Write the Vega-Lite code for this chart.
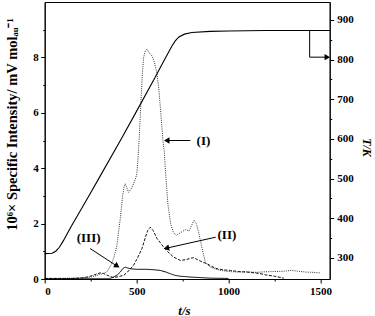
{
  "$schema": "https://vega.github.io/schema/vega-lite/v6.json",
  "width": 285,
  "height": 277,
  "autosize": {"type": "none"},
  "padding": {"left": 44.7, "top": 2, "right": 45.3, "bottom": 37},
  "background": "white",
  "config": {
    "font": "Liberation Serif",
    "view": {"stroke": "black", "strokeWidth": 1},
    "axis": {
      "labelFont": "Liberation Serif",
      "labelFontWeight": "bold",
      "labelFontSize": 11,
      "labelColor": "black",
      "tickColor": "black",
      "domainColor": "black",
      "tickSize": 4,
      "grid": false,
      "titleFont": "Liberation Serif",
      "titleFontWeight": "bold",
      "titleFontSize": 13,
      "titleColor": "black"
    },
    "text": {"font": "Liberation Serif"}
  },
  "datasets": {
    "intensity": [
      {"series": "I", "t": 0, "v": 0.02}, {"series": "I", "t": 100, "v": 0.02}, {"series": "I", "t": 200, "v": 0.04}, {"series": "I", "t": 250, "v": 0.07}, {"series": "I", "t": 280, "v": 0.12}, {"series": "I", "t": 300, "v": 0.17}, {"series": "I", "t": 320, "v": 0.2}, {"series": "I", "t": 340, "v": 0.27}, {"series": "I", "t": 360, "v": 0.5}, {"series": "I", "t": 374, "v": 0.73}, {"series": "I", "t": 385, "v": 1.0}, {"series": "I", "t": 393, "v": 1.21}, {"series": "I", "t": 400, "v": 1.6}, {"series": "I", "t": 411, "v": 2.18}, {"series": "I", "t": 423, "v": 2.95}, {"series": "I", "t": 432, "v": 3.35}, {"series": "I", "t": 438, "v": 3.44}, {"series": "I", "t": 446, "v": 3.3}, {"series": "I", "t": 456, "v": 3.13}, {"series": "I", "t": 470, "v": 3.25}, {"series": "I", "t": 483, "v": 3.44}, {"series": "I", "t": 493, "v": 3.6}, {"series": "I", "t": 501, "v": 3.8}, {"series": "I", "t": 508, "v": 4.4}, {"series": "I", "t": 514, "v": 5.1}, {"series": "I", "t": 523, "v": 6.33}, {"series": "I", "t": 530, "v": 7.3}, {"series": "I", "t": 538, "v": 8.0}, {"series": "I", "t": 548, "v": 8.25}, {"series": "I", "t": 556, "v": 8.3}, {"series": "I", "t": 570, "v": 8.15}, {"series": "I", "t": 583, "v": 8.06}, {"series": "I", "t": 598, "v": 7.8}, {"series": "I", "t": 611, "v": 7.4}, {"series": "I", "t": 620, "v": 6.9}, {"series": "I", "t": 629, "v": 6.2}, {"series": "I", "t": 643, "v": 5.0}, {"series": "I", "t": 650, "v": 4.6}, {"series": "I", "t": 660, "v": 3.6}, {"series": "I", "t": 670, "v": 2.7}, {"series": "I", "t": 685, "v": 2.0}, {"series": "I", "t": 700, "v": 1.68}, {"series": "I", "t": 715, "v": 1.58}, {"series": "I", "t": 740, "v": 1.68}, {"series": "I", "t": 765, "v": 1.78}, {"series": "I", "t": 785, "v": 1.74}, {"series": "I", "t": 800, "v": 1.95}, {"series": "I", "t": 812, "v": 2.12}, {"series": "I", "t": 825, "v": 2.0}, {"series": "I", "t": 840, "v": 1.6}, {"series": "I", "t": 856, "v": 1.1}, {"series": "I", "t": 874, "v": 0.6}, {"series": "I", "t": 900, "v": 0.43}, {"series": "I", "t": 930, "v": 0.36}, {"series": "I", "t": 956, "v": 0.31}, {"series": "I", "t": 1000, "v": 0.27}, {"series": "I", "t": 1050, "v": 0.25}, {"series": "I", "t": 1100, "v": 0.26}, {"series": "I", "t": 1150, "v": 0.24}, {"series": "I", "t": 1200, "v": 0.26}, {"series": "I", "t": 1250, "v": 0.27}, {"series": "I", "t": 1300, "v": 0.28}, {"series": "I", "t": 1340, "v": 0.31}, {"series": "I", "t": 1380, "v": 0.28}, {"series": "I", "t": 1420, "v": 0.25}, {"series": "I", "t": 1460, "v": 0.24}, {"series": "I", "t": 1500, "v": 0.22},
      {"series": "II", "t": 0, "v": 0.02}, {"series": "II", "t": 150, "v": 0.02}, {"series": "II", "t": 200, "v": 0.04}, {"series": "II", "t": 240, "v": 0.08}, {"series": "II", "t": 270, "v": 0.15}, {"series": "II", "t": 300, "v": 0.22}, {"series": "II", "t": 320, "v": 0.2}, {"series": "II", "t": 345, "v": 0.12}, {"series": "II", "t": 370, "v": 0.06}, {"series": "II", "t": 393, "v": 0.07}, {"series": "II", "t": 410, "v": 0.1}, {"series": "II", "t": 429, "v": 0.13}, {"series": "II", "t": 450, "v": 0.25}, {"series": "II", "t": 470, "v": 0.4}, {"series": "II", "t": 483, "v": 0.49}, {"series": "II", "t": 500, "v": 0.7}, {"series": "II", "t": 515, "v": 0.9}, {"series": "II", "t": 529, "v": 1.1}, {"series": "II", "t": 545, "v": 1.45}, {"series": "II", "t": 560, "v": 1.75}, {"series": "II", "t": 574, "v": 1.87}, {"series": "II", "t": 590, "v": 1.75}, {"series": "II", "t": 611, "v": 1.46}, {"series": "II", "t": 630, "v": 1.3}, {"series": "II", "t": 647, "v": 1.15}, {"series": "II", "t": 670, "v": 0.98}, {"series": "II", "t": 701, "v": 0.79}, {"series": "II", "t": 738, "v": 0.67}, {"series": "II", "t": 770, "v": 0.7}, {"series": "II", "t": 795, "v": 0.75}, {"series": "II", "t": 810, "v": 0.77}, {"series": "II", "t": 830, "v": 0.7}, {"series": "II", "t": 855, "v": 0.62}, {"series": "II", "t": 883, "v": 0.55}, {"series": "II", "t": 910, "v": 0.45}, {"series": "II", "t": 938, "v": 0.37}, {"series": "II", "t": 970, "v": 0.33}, {"series": "II", "t": 1010, "v": 0.31}, {"series": "II", "t": 1050, "v": 0.27}, {"series": "II", "t": 1100, "v": 0.25}, {"series": "II", "t": 1170, "v": 0.2}, {"series": "II", "t": 1200, "v": 0.15}, {"series": "II", "t": 1250, "v": 0.1}, {"series": "II", "t": 1300, "v": 0.03},
      {"series": "III", "t": 0, "v": 0.01}, {"series": "III", "t": 350, "v": 0.01}, {"series": "III", "t": 374, "v": 0.07}, {"series": "III", "t": 395, "v": 0.15}, {"series": "III", "t": 411, "v": 0.25}, {"series": "III", "t": 425, "v": 0.38}, {"series": "III", "t": 438, "v": 0.43}, {"series": "III", "t": 450, "v": 0.4}, {"series": "III", "t": 465, "v": 0.37}, {"series": "III", "t": 500, "v": 0.35}, {"series": "III", "t": 556, "v": 0.35}, {"series": "III", "t": 600, "v": 0.33}, {"series": "III", "t": 629, "v": 0.31}, {"series": "III", "t": 660, "v": 0.25}, {"series": "III", "t": 683, "v": 0.19}, {"series": "III", "t": 710, "v": 0.13}, {"series": "III", "t": 738, "v": 0.1}, {"series": "III", "t": 792, "v": 0.07}, {"series": "III", "t": 850, "v": 0.05}, {"series": "III", "t": 900, "v": 0.03}, {"series": "III", "t": 1000, "v": 0.02}
    ],
    "temperature": [
      {"t": 0, "T": 311}, {"t": 40, "T": 312}, {"t": 60, "T": 317}, {"t": 80, "T": 327}, {"t": 101, "T": 343}, {"t": 120, "T": 359}, {"t": 147, "T": 382}, {"t": 200, "T": 424}, {"t": 247, "T": 462}, {"t": 300, "T": 505}, {"t": 420, "T": 603}, {"t": 500, "T": 670}, {"t": 600, "T": 755}, {"t": 650, "T": 798}, {"t": 692, "T": 834}, {"t": 710, "T": 847}, {"t": 730, "T": 857}, {"t": 760, "T": 864}, {"t": 800, "T": 868}, {"t": 900, "T": 871}, {"t": 1000, "T": 872}, {"t": 1200, "T": 873}, {"t": 1550, "T": 873}
    ],
    "arrowsI": [
      {"x1": 792, "x2": 664, "y1": 5.0, "y2": 5.0},
      {"x1": 930, "x2": 660, "y1": 1.51, "y2": 1.11},
      {"x1": 247, "x2": 397, "y1": 1.1, "y2": 0.45}
    ],
    "labelsI": [
      {"t": 826, "v": 5.0, "label": "(I)"},
      {"t": 940, "v": 1.6, "label": "(II)"},
      {"t": 174, "v": 1.48, "label": "(III)"}
    ],
    "arrowsT": [
      {"x1": 1441, "x2": 1441, "y1": 873, "y2": 806},
      {"x1": 1441, "x2": 1535, "y1": 806, "y2": 806}
    ]
  },
  "layer": [
    {
      "layer": [
        {
          "data": {"name": "intensity"},
          "mark": {"type": "line", "strokeWidth": 1, "color": "black"},
          "encoding": {
            "x": {"field": "t", "type": "quantitative", "scale": {"domain": [0, 1550], "nice": false, "zero": false},
              "axis": {"orient": "bottom", "values": [0, 500, 1000, 1500], "format": "d", "title": "t/s", "titleFontStyle": "italic", "titleX": 139.3, "titleY": 31, "titleBaseline": "middle", "labelPadding": 2}},
            "y": {"field": "v", "type": "quantitative", "scale": {"domain": [0, 10], "nice": false},
              "axis": {"orient": "left", "values": [0, 2, 4, 6, 8], "title": "10⁶× Specific Intensity/ mV molₐᵤ⁻¹", "titleFontSize": 14.5, "titleX": -32.2, "titleY": 122, "titleAngle": -90, "titleAlign": "center", "titleBaseline": "middle", "labelPadding": 2.5}},
            "strokeDash": {"field": "series", "type": "nominal", "scale": {"domain": ["I", "II", "III"], "range": [[1, 1.2], [3, 1.5], [1, 0]]}, "legend": null},
            "color": {"field": "series", "type": "nominal", "scale": {"domain": ["I", "II", "III"], "range": ["#333333", "#111111", "#000000"]}, "legend": null}
          }
        },
        {
          "data": {"name": "arrowsI"},
          "mark": {"type": "rule", "color": "black", "strokeWidth": 1},
          "encoding": {
            "x": {"field": "x1", "type": "quantitative", "axis": {"orient": "bottom", "values": [250, 750, 1250], "labels": false, "domain": false, "tickSize": 2, "title": null}},
            "x2": {"field": "x2"},
            "y": {"field": "y1", "type": "quantitative", "axis": {"orient": "left", "values": [1, 3, 5, 7, 9], "labels": false, "domain": false, "tickSize": 2, "title": null}},
            "y2": {"field": "y2"}
          }
        },
        {
          "data": {"values": [{"t": 664, "v": 5.0}]},
          "mark": {"type": "point", "shape": "triangle-right", "filled": true, "color": "black", "opacity": 1, "size": 40, "angle": 180},
          "encoding": {"x": {"field": "t", "type": "quantitative", "axis": null}, "y": {"field": "v", "type": "quantitative", "axis": null}}
        },
        {
          "data": {"values": [{"t": 662, "v": 1.11}]},
          "mark": {"type": "point", "shape": "triangle-right", "filled": true, "color": "black", "opacity": 1, "size": 40, "angle": 167},
          "encoding": {"x": {"field": "t", "type": "quantitative", "axis": null}, "y": {"field": "v", "type": "quantitative", "axis": null}}
        },
        {
          "data": {"values": [{"t": 394, "v": 0.47}]},
          "mark": {"type": "point", "shape": "triangle-right", "filled": true, "color": "black", "opacity": 1, "size": 40, "angle": 33},
          "encoding": {"x": {"field": "t", "type": "quantitative", "axis": null}, "y": {"field": "v", "type": "quantitative", "axis": null}}
        },
        {
          "data": {"name": "labelsI"},
          "mark": {"type": "text", "font": "Liberation Serif", "fontWeight": "bold", "fontSize": 13, "align": "left", "baseline": "middle", "color": "black"},
          "encoding": {
            "x": {"field": "t", "type": "quantitative", "axis": null},
            "y": {"field": "v", "type": "quantitative", "axis": null},
            "text": {"field": "label"}
          }
        }
      ],
      "resolve": {"axis": {"x": "independent", "y": "independent"}}
    },
    {
      "layer": [
        {
          "data": {"name": "temperature"},
          "mark": {"type": "line", "color": "black", "strokeWidth": 1.1},
          "encoding": {
            "x": {"field": "t", "type": "quantitative", "axis": null},
            "y": {"field": "T", "type": "quantitative", "scale": {"domain": [247, 945], "nice": false, "zero": false},
              "axis": {"orient": "right", "values": [300, 400, 500, 600, 700, 800, 900], "title": "T/K", "titleFontStyle": "italic", "titleFontSize": 12, "titleX": 37, "titleY": 145, "titleAngle": 90, "titleAlign": "center", "titleBaseline": "middle", "labelPadding": 3}}
          }
        },
        {
          "data": {"name": "arrowsT"},
          "mark": {"type": "rule", "color": "black", "strokeWidth": 1},
          "encoding": {
            "x": {"field": "x1", "type": "quantitative", "axis": null},
            "x2": {"field": "x2"},
            "y": {"field": "y1", "type": "quantitative", "axis": {"orient": "right", "values": [350, 450, 550, 650, 750, 850], "labels": false, "domain": false, "tickSize": 2, "title": null}},
            "y2": {"field": "y2"}
          }
        },
        {
          "data": {"values": [{"t": 1537, "T": 806}]},
          "mark": {"type": "point", "shape": "triangle-right", "filled": true, "color": "black", "opacity": 1, "size": 40},
          "encoding": {"x": {"field": "t", "type": "quantitative", "axis": null}, "y": {"field": "T", "type": "quantitative", "axis": null}}
        }
      ],
      "resolve": {"axis": {"y": "independent"}}
    }
  ],
  "resolve": {"scale": {"y": "independent"}}
}
